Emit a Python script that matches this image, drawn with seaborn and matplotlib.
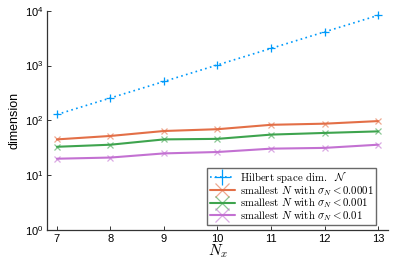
import numpy as np
import pandas as pd
import seaborn as sns
import matplotlib
matplotlib.use("Agg")
import matplotlib.pyplot as plt
from matplotlib.ticker import LogLocator, NullLocator

# valeurs
nx = [7, 8, 9, 10, 11, 12, 13]
hilbert_dim = [128, 256, 512, 1024, 2048, 4096, 8192]
n_1e4 = [45, 52, 64, 69, 83, 87, 97]
n_1e3 = [33, 36, 45, 46, 55, 59, 63]
n_1e2 = [20, 21, 25, 26.5, 30.5, 31.5, 36]

labels = [
    r"$\mathrm{Hilbert\ space\ dim.}\ \ \mathcal{N}$",
    r"$\mathrm{smallest}\ N\ \mathrm{with}\ \sigma_N < 0.0001$",
    r"$\mathrm{smallest}\ N\ \mathrm{with}\ \sigma_N < 0.001$",
    r"$\mathrm{smallest}\ N\ \mathrm{with}\ \sigma_N < 0.01$",
]
colors = ["#009AFA", "#E36F47", "#3EA44E", "#C371D2"]

sns.set_style("ticks")
plt.rcParams["mathtext.fontset"] = "cm"
plt.rcParams["font.family"] = ["Liberation Sans", "DejaVu Sans"]
plt.rcParams["text.color"] = "black"
plt.rcParams["axes.labelcolor"] = "black"
plt.rcParams["xtick.color"] = "black"
plt.rcParams["ytick.color"] = "black"

fig = plt.figure(figsize=(3.99, 2.66), dpi=100)
ax = fig.add_axes([0.1186, 0.135, 0.853, 0.825])

series = [hilbert_dim, n_1e4, n_1e3, n_1e2]
for i, (vals, lab, col) in enumerate(zip(series, labels, colors)):
    df = pd.DataFrame({"Nx": nx, "dim": vals})
    if i == 0:
        sns.lineplot(data=df, x="Nx", y="dim", ax=ax, color=col, label=lab,
                     linestyle=(0, (1, 2)), linewidth=1.2, marker="+",
                     markersize=6, markeredgewidth=0.9, markeredgecolor=col,
                     alpha=1.0)
    else:
        sns.lineplot(data=df, x="Nx", y="dim", ax=ax, color=col, label=lab,
                     linewidth=1.5, marker="x", markersize=5,
                     markeredgewidth=0.9, markeredgecolor=col + "99")

ax.set_yscale("log")
ax.set_ylim(1, 1e4)
ax.set_xlim(6.82, 13.18)
ax.set_xticks(nx)
ax.yaxis.set_major_locator(LogLocator(base=10, numticks=10))
ax.yaxis.set_minor_locator(NullLocator())
ax.tick_params(direction="in", length=3, width=0.7, labelsize=8, pad=3,
               color="#333333")

for s in ["top", "right"]:
    ax.spines[s].set_visible(False)
for s in ["left", "bottom"]:
    ax.spines[s].set_linewidth(0.9)
    ax.spines[s].set_color("#333333")

ax.set_xlabel(r"$N_x$", fontsize=11, labelpad=-1)
ax.set_ylabel("dimension", fontsize=9, labelpad=3)

leg = ax.legend(loc="lower right", bbox_to_anchor=(0.965, 0.023), fontsize=7.8,
                frameon=True, fancybox=False, edgecolor="#444444",
                borderpad=0.2, labelspacing=-0.12, handlelength=2.3,
                handletextpad=0.5, borderaxespad=0, markerscale=1.9)
leg.get_frame().set_linewidth(1.0)

fig.savefig("out.png", dpi=100)
